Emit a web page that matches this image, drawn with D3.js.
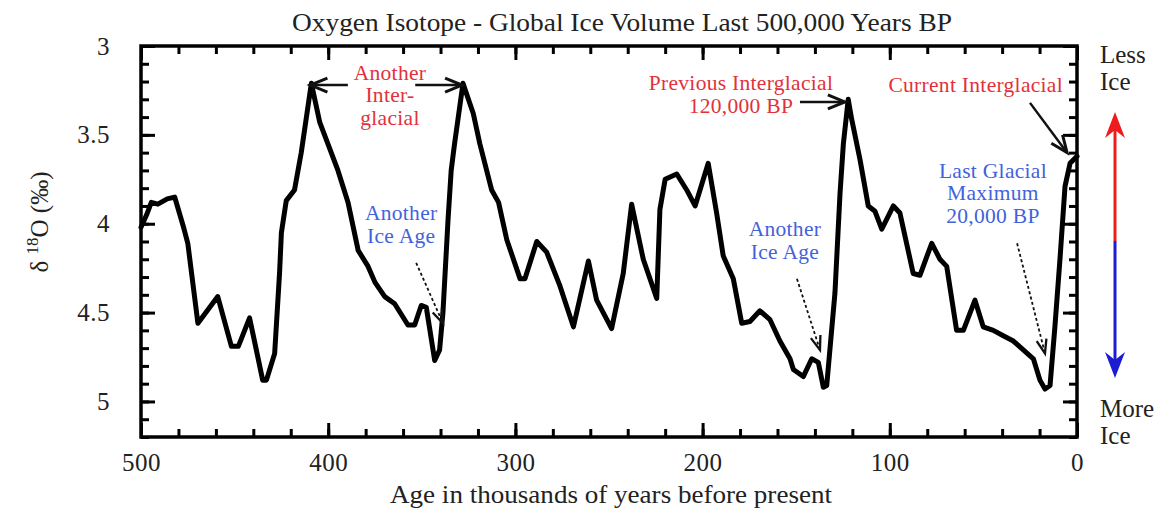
<!DOCTYPE html>
<html>
<head>
<meta charset="utf-8">
<script src="https://cdn.jsdelivr.net/npm/d3@7"></script>
<style>
  html, body { margin: 0; padding: 0; background: #fff; }
  svg { display: block; }
  text { font-family: "Liberation Serif", "DejaVu Serif", serif; }
</style>
</head>
<body>
<svg id="chart" width="1160" height="514"></svg>
<script>
// Benthic oxygen-isotope record, age in thousands of years BP
const ages = [500, 497, 494.5, 491, 486, 482, 477, 475, 469.6, 459, 451.7, 448, 442, 435, 433,
  428.6, 426, 425, 422.4, 418, 414.4, 409, 404.5, 394.8, 389.4, 384, 378.7, 375, 369.8, 364.5,
  357.4, 353.8, 350.3, 347.6, 343.1, 340.5, 338.7, 336, 334.3, 332.5, 328, 322.5, 319, 312.7,
  309, 304.6, 297.5, 294.9, 288.6, 283.3, 276.2, 269, 261, 256.6, 248.6, 242.4, 237.9, 231.7,
  224.5, 222.8, 220, 213.8, 208.5, 204, 197, 192.5, 189, 183.6, 179.1, 174.7, 169.4, 164, 158.7,
  153.3, 151.5, 146.2, 141.7, 138.2, 135.5, 133.7, 129.3, 126.6, 124.8, 122.2, 120.4, 115.9,
  111.5, 107.9, 104.3, 98.1, 94.6, 87.5, 83.9, 77.6, 73.2, 69.6, 64.3, 60.7, 54.5, 50.1, 44.7,
  39.4, 34, 28.7, 23.3, 19.8, 17.1, 14.4, 11.8, 9.1, 6.4, 3.7, 0];
const d18O = [4.02, 3.95, 3.88, 3.89, 3.86, 3.85, 4.03, 4.11, 4.56, 4.41, 4.69, 4.69, 4.53, 4.88, 4.88,
  4.73, 4.28, 4.05, 3.87, 3.81, 3.60, 3.21, 3.43, 3.70, 3.88, 4.15, 4.24, 4.33, 4.41, 4.45,
  4.57, 4.57, 4.46, 4.47, 4.77, 4.71, 4.50, 3.98, 3.70, 3.55, 3.21, 3.38, 3.55, 3.81,
  3.88, 4.09, 4.31, 4.31, 4.10, 4.16, 4.35, 4.58, 4.21, 4.43, 4.59, 4.28, 3.89, 4.20,
  4.42, 3.92, 3.75, 3.72, 3.81, 3.90, 3.66, 3.94, 4.18, 4.31, 4.56, 4.55, 4.49, 4.54, 4.66,
  4.76, 4.82, 4.86, 4.76, 4.78, 4.92, 4.91, 4.39, 3.83, 3.55, 3.30, 3.41, 3.64,
  3.90, 3.93, 4.03, 3.90, 3.94, 4.28, 4.29, 4.11, 4.20, 4.24, 4.60, 4.60, 4.43, 4.58, 4.60,
  4.63, 4.66, 4.71, 4.76, 4.88, 4.93, 4.91, 4.58, 4.20, 3.79, 3.66, 3.62];

// Axis ticks
const xMajorTicks = [500, 400, 300, 200, 100, 0];
const xMinorTicks = d3.range(0, 501, 20);
const yMajorTicks = [3, 3.5, 4, 4.5, 5];
const yMinorTicks = d3.range(30, 53).map(v => v / 10);

// Annotations: text anchored at (age, d18O), arrows from -> to in data units
const annotations = [
  { lines: ["Another", "Inter-", "glacial"], age: 367, val: 3.19, anchor: "middle", color: "red" },
  { lines: ["Another", "Ice Age"], age: 361, val: 3.98, anchor: "middle", color: "blue" },
  { lines: ["Previous Interglacial", "120,000 BP"], age: 179.5, val: 3.25, anchor: "middle", color: "red" },
  { lines: ["Current Interglacial"], age: 7.5, val: 3.26, anchor: "end", color: "red" },
  { lines: ["Another", "Ice Age"], age: 156, val: 4.07, anchor: "middle", color: "blue" },
  { lines: ["Last Glacial", "Maximum", "20,000 BP"], age: 44.9, val: 3.74, anchor: "middle", color: "blue" }
];
const arrows = [
  { from: [389.5, 3.22], to: [409.5, 3.22], dashed: false },
  { from: [353.5, 3.22], to: [328.5, 3.22], dashed: false },
  { from: [353, 4.22], to: [338.7, 4.56], dashed: true },
  { from: [148, 3.315], to: [124, 3.315], dashed: false },
  { from: [25.1, 3.32], to: [5.3, 3.60], dashed: false },
  { from: [149.6, 4.31], to: [137.3, 4.71], dashed: true },
  { from: [32, 4.11], to: [17.1, 4.73], dashed: true }
];
const textColors = { red: "#e2313b", blue: "#4262dc" };

const svg = d3.select("#chart");
svg.append("rect").attr("width", 1160).attr("height", 514).attr("fill", "#fff");

const margin = { left: 141, right: 83, top: 46, bottom: 77 };
const W = 1160, H = 514;
const x = d3.scaleLinear().domain([500, 0]).range([margin.left, W - margin.right]);
const y = d3.scaleLinear().domain([3, 5.2]).range([margin.top, H - margin.bottom]);

const tickStroke = 3;
function styleAxis(g) {
  g.select(".domain").remove();
  g.selectAll(".tick line").attr("stroke", "#000").attr("stroke-width", tickStroke);
  g.selectAll(".tick text").attr("fill", "#222").style("font-family", '"Liberation Serif", serif')
    .style("font-size", "25px").style("letter-spacing", "0.5px");
}

// bottom
svg.append("g").attr("transform", `translate(0,${y.range()[1]})`)
  .call(d3.axisBottom(x).tickValues(xMinorTicks).tickSize(-8).tickFormat("")).call(styleAxis);
svg.append("g").attr("transform", `translate(0,${y.range()[1]})`)
  .call(d3.axisBottom(x).tickValues(xMajorTicks).tickSize(-14).tickPadding(16).tickFormat(d3.format("d"))).call(styleAxis);
// top
svg.append("g").attr("transform", `translate(0,${y.range()[0]})`)
  .call(d3.axisTop(x).tickValues(xMinorTicks).tickSize(-8).tickFormat("")).call(styleAxis);
svg.append("g").attr("transform", `translate(0,${y.range()[0]})`)
  .call(d3.axisTop(x).tickValues(xMajorTicks).tickSize(-14).tickFormat("")).call(styleAxis);
// left
svg.append("g").attr("transform", `translate(${x.range()[0]},0)`)
  .call(d3.axisLeft(y).tickValues(yMinorTicks).tickSize(-8).tickFormat("")).call(styleAxis);
svg.append("g").attr("transform", `translate(${x.range()[0]},0)`)
  .call(d3.axisLeft(y).tickValues(yMajorTicks).tickSize(-14).tickPadding(31).tickFormat(d => String(d))).call(styleAxis);
// right
svg.append("g").attr("transform", `translate(${x.range()[1]},0)`)
  .call(d3.axisRight(y).tickValues(yMinorTicks).tickSize(-8).tickFormat("")).call(styleAxis);
svg.append("g").attr("transform", `translate(${x.range()[1]},0)`)
  .call(d3.axisRight(y).tickValues(yMajorTicks).tickSize(-14).tickFormat("")).call(styleAxis);

// frame
svg.append("rect")
  .attr("x", x.range()[0]).attr("y", y.range()[0])
  .attr("width", x.range()[1] - x.range()[0]).attr("height", y.range()[1] - y.range()[0])
  .attr("fill", "none").attr("stroke", "#000").attr("stroke-width", 3.5);

// isotope curve
const pts = ages.map((a, i) => [a, d18O[i]]);
svg.append("path").datum(pts)
  .attr("d", d3.line().x(d => x(d[0])).y(d => y(d[1])))
  .attr("fill", "none").attr("stroke", "#000").attr("stroke-width", 5)
  .attr("stroke-linejoin", "round").attr("stroke-linecap", "round");

// title and axis titles
svg.append("text").attr("x", 622).attr("y", 31).attr("text-anchor", "middle")
  .attr("fill", "#222").style("font-size", "25px")
  .attr("textLength", 660).attr("lengthAdjust", "spacingAndGlyphs")
  .text("Oxygen Isotope - Global Ice Volume Last 500,000 Years BP");
svg.append("text").attr("x", 611).attr("y", 503).attr("text-anchor", "middle")
  .attr("fill", "#222").style("font-size", "25px")
  .attr("textLength", 442).attr("lengthAdjust", "spacingAndGlyphs")
  .text("Age in thousands of years before present");
const yl = svg.append("text").attr("transform", `translate(48,222) rotate(-90)`).attr("text-anchor", "middle")
  .attr("fill", "#222").style("font-size", "25px");
yl.append("tspan").text("δ ");
yl.append("tspan").attr("dy", -10).style("font-size", "17px").text("18");
yl.append("tspan").attr("dy", 10).text("O (‰)");

// annotations
annotations.forEach(a => {
  const t = svg.append("text").attr("x", x(a.age)).attr("y", y(a.val))
    .attr("text-anchor", a.anchor).attr("fill", textColors[a.color])
    .style("font-size", "21.5px").style("letter-spacing", "0.3px");
  a.lines.forEach((ln, i) => {
    t.append("tspan").attr("x", x(a.age)).attr("dy", i === 0 ? 0 : 22.5).text(ln);
  });
});

function drawArrow(g, x1, y1, x2, y2, opts) {
  const ang = Math.atan2(y2 - y1, x2 - x1);
  const L = opts.head, Wd = opts.wing;
  const bx = x2 - L * Math.cos(ang), by = y2 - L * Math.sin(ang);
  const px = -Math.sin(ang) * Wd, py = Math.cos(ang) * Wd;
  g.append("line").attr("x1", x1).attr("y1", y1).attr("x2", x2).attr("y2", y2)
    .attr("stroke", opts.color).attr("stroke-width", opts.width)
    .attr("stroke-dasharray", opts.dashed ? "3,2.5" : null);
  g.append("path")
    .attr("d", `M${bx + px},${by + py}L${x2},${y2}L${bx - px},${by - py}`)
    .attr("fill", "none").attr("stroke", opts.color).attr("stroke-width", opts.width + 0.5)
    .attr("stroke-linejoin", "miter");
}
const ag = svg.append("g");
arrows.forEach(a => {
  drawArrow(ag, x(a.from[0]), y(a.from[1]), x(a.to[0]), y(a.to[1]),
    { color: "#111", width: a.dashed ? 1.8 : 2.5, dashed: a.dashed, head: a.dashed ? 14 : 17, wing: a.dashed ? 5 : 7 });
});

// ice-volume direction key at the right
const kx = 1115;
const keyLabels = [["Less", 63], ["Ice", 90], ["More", 417], ["Ice", 444]];
keyLabels.forEach(([t, yy]) => {
  svg.append("text").attr("x", 1100).attr("y", yy).attr("fill", "#222")
    .style("font-size", "25px").text(t);
});
svg.append("line").attr("x1", kx).attr("x2", kx).attr("y1", 125).attr("y2", 241)
  .attr("stroke", "#ee1c1c").attr("stroke-width", 3);
svg.append("line").attr("x1", kx).attr("x2", kx).attr("y1", 241).attr("y2", 365)
  .attr("stroke", "#1c1cd0").attr("stroke-width", 3);
svg.append("path").attr("d", `M${kx},112L${kx + 10},138L${kx},130L${kx - 10},138Z`).attr("fill", "#ee1c1c");
svg.append("path").attr("d", `M${kx},378L${kx + 10},352L${kx},360L${kx - 10},352Z`).attr("fill", "#1c1cd0");
</script>
</body>
</html>
